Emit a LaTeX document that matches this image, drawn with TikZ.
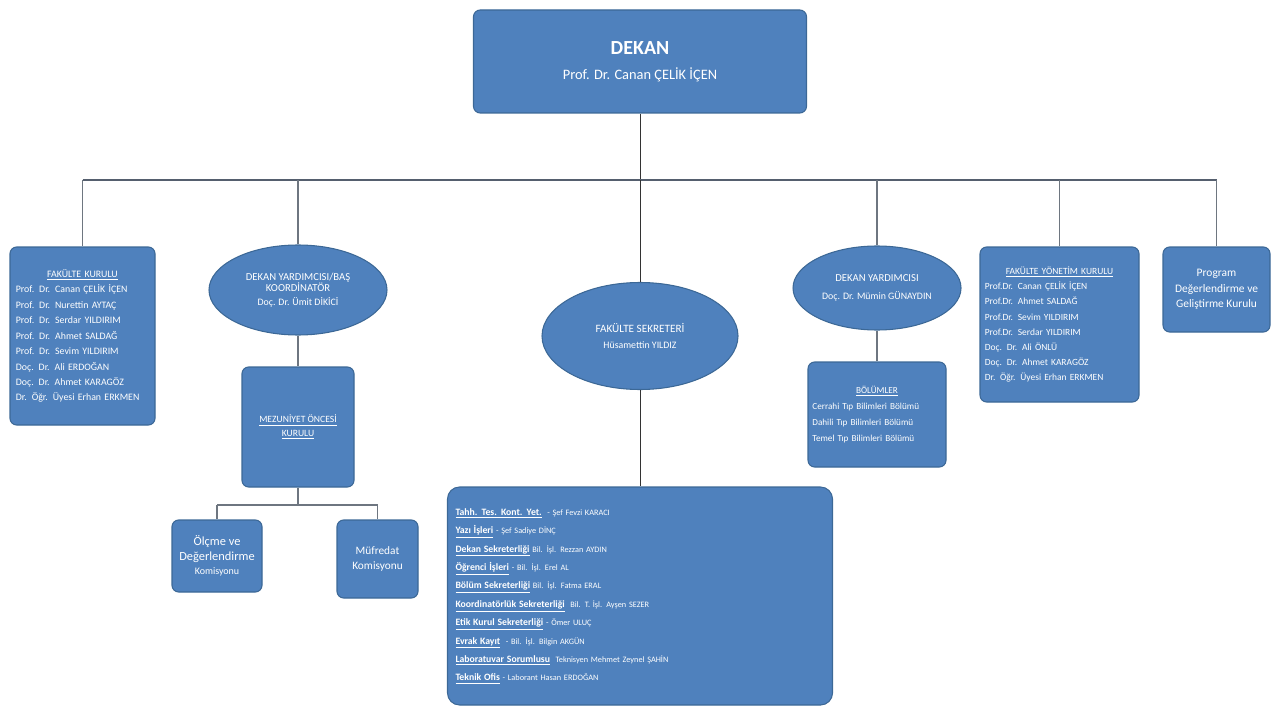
\documentclass[tikz,border=0pt]{standalone}
\usepackage{fontspec}
\setmainfont{Carlito}
\usetikzlibrary{shapes.geometric}
\definecolor{boxblue}{RGB}{79,129,189}
\definecolor{boxedge}{RGB}{60,104,150}
\definecolor{linegray}{RGB}{110,118,128}
\definecolor{busgray}{RGB}{85,95,110}
\begin{document}
\begin{tikzpicture}[x=0.75pt,y=-0.75pt,
  blk/.style={draw=boxedge, line width=0.8pt, fill=boxblue, text=white, rounded corners=5pt, inner sep=0pt},
  oval/.style={ellipse, draw=boxedge, line width=0.8pt, fill=boxblue, text=white, inner sep=0pt, align=center},
  conn/.style={draw=linegray, line width=0.9pt},
  darkconn/.style={draw=black!80, line width=0.7pt},
  bus/.style={draw=busgray, line width=2pt},
  lab/.style={font=\fontsize{7.2}{13.8}\selectfont\bfseries}]
\useasboundingbox (0,0) rectangle (1280,709);

% Dean
\node[blk, minimum width=249.75pt, minimum height=77.25pt, align=center] (dekan) at (640,61.5)
  {{\fontsize{15}{18}\selectfont\bfseries DEKAN}\\[7pt]{\fontsize{10.8}{12}\selectfont Prof. Dr. Canan ÇELİK İÇEN}};

% Faculty board
\node[blk, minimum width=108.75pt, minimum height=133.5pt, text width=100pt, align=left,
      font=\fontsize{7.4}{11.6}\selectfont] (fk) at (82.5,336)
  {\makebox[\linewidth][c]{\underline{FAKÜLTE KURULU}}\\
   Prof. Dr. Canan ÇELİK İÇEN\\
   Prof. Dr. Nurettin AYTAÇ\\
   Prof. Dr. Serdar YILDIRIM\\
   Prof. Dr. Ahmet SALDAĞ\\
   Prof. Dr. Sevim YILDIRIM\\
   Doç. Dr. Ali ERDOĞAN\\
   Doç. Dr. Ahmet KARAGÖZ\\
   Dr. Öğr. Üyesi Erhan ERKMEN};

% Vice dean / chief coordinator
\node[oval, minimum width=133.5pt, minimum height=67.5pt, font=\fontsize{8}{8.6}\selectfont] (e1) at (298,290)
  {DEKAN YARDIMCISI/BAŞ\\KOORDİNATÖR\\[2pt]{\fontsize{7.4}{8}\selectfont Doç. Dr. Ümit DİKİCİ}};

\node[blk, minimum width=84pt, minimum height=90pt, align=center, font=\fontsize{7.2}{10}\selectfont] (mo) at (298,427)
  {\underline{MEZUNİYET ÖNCESİ}\\\underline{KURULU}};

\node[blk, minimum width=67.5pt, minimum height=54pt, align=center, font=\fontsize{9.3}{10.8}\selectfont] (olc) at (217,556)
  {Ölçme ve\\Değerlendirme\\{\fontsize{7.5}{10}\selectfont Komisyonu}};

\node[blk, minimum width=60.75pt, minimum height=58.5pt, align=center, font=\fontsize{8.5}{11.5}\selectfont] (muf) at (377.5,559)
  {Müfredat\\Komisyonu};

% Faculty secretary
\node[oval, minimum width=147pt, minimum height=80.25pt, font=\fontsize{8.4}{12.5}\selectfont] (fs) at (640,336)
  {FAKÜLTE SEKRETERİ\\{\fontsize{7.4}{8}\selectfont Hüsamettin YILDIZ}};

\node[blk, minimum width=288.75pt, minimum height=163.5pt, text width=276.75pt, align=left,
      font=\fontsize{6.2}{13.8}\selectfont, rounded corners=9pt] (big) at (640,596)
  {{\fontsize{7.3}{13.8}\selectfont\bfseries\underline{Tahh. Tes. Kont. Yet.}} \ - Şef Fevzi KARACI\\
   {\fontsize{7.3}{13.8}\selectfont\bfseries\underline{Yazı İşleri}} - Şef Sadiye DİNÇ\\
   {\fontsize{7.3}{13.8}\selectfont\bfseries\underline{Dekan Sekreterliği}} Bil. İşl. Rezzan AYDIN\\
   {\fontsize{7.3}{13.8}\selectfont\bfseries\underline{Öğrenci İşleri}} - Bil. İşl. Erel AL\\
   {\fontsize{7.3}{13.8}\selectfont\bfseries\underline{Bölüm Sekreterliği}} Bil. İşl. Fatma ERAL\\
   {\fontsize{7.3}{13.8}\selectfont\bfseries\underline{Koordinatörlük Sekreterliği}} \ Bil. T. İşl. Ayşen SEZER\\
   {\fontsize{7.3}{13.8}\selectfont\bfseries\underline{Etik Kurul Sekreterliği}} - Ömer ULUÇ\\
   {\fontsize{7.3}{13.8}\selectfont\bfseries\underline{Evrak Kayıt}} \ - Bil. İşl. Bilgin AKGÜN\\
   {\fontsize{7.3}{13.8}\selectfont\bfseries\underline{Laboratuvar Sorumlusu}} \ Teknisyen Mehmet Zeynel ŞAHİN\\
   {\fontsize{7.3}{13.8}\selectfont\bfseries\underline{Teknik Ofis}} - Laborant Hasan ERDOĞAN};

% Vice dean
\node[oval, minimum width=126pt, minimum height=63pt, font=\fontsize{8}{14}\selectfont] (e3) at (877,288)
  {DEKAN YARDIMCISI\\{\fontsize{7.4}{8}\selectfont Doç. Dr. Mümin GÜNAYDIN}};

\node[blk, minimum width=103.5pt, minimum height=78.75pt, text width=97pt, align=left,
      font=\fontsize{6.9}{12}\selectfont] (bol) at (877,414.5)
  {\makebox[\linewidth][c]{\underline{BÖLÜMLER}}\\
   Cerrahi Tıp Bilimleri Bölümü\\
   Dahili Tıp Bilimleri Bölümü\\
   Temel Tıp Bilimleri Bölümü};

% Faculty executive board
\node[blk, minimum width=119.25pt, minimum height=116.25pt, text width=112pt, align=left,
      font=\fontsize{7.1}{11.3}\selectfont] (fyk) at (1059.5,324.5)
  {\makebox[\linewidth][c]{\underline{FAKÜLTE YÖNETİM KURULU}}\\
   Prof.Dr. Canan ÇELİK İÇEN\\
   Prof.Dr. Ahmet SALDAĞ\\
   Prof.Dr. Sevim YILDIRIM\\
   Prof.Dr. Serdar YILDIRIM\\
   Doç. Dr. Ali ÖNLÜ\\
   Doç. Dr. Ahmet KARAGÖZ\\
   Dr. Öğr. Üyesi Erhan ERKMEN};

% Program evaluation
\node[blk, minimum width=80.25pt, minimum height=63.75pt, align=center, font=\fontsize{8.6}{11.5}\selectfont] (prg) at (1216.5,289.5)
  {Program\\Değerlendirme ve\\Geliştirme Kurulu};

% Connectors
\coordinate (busM) at (dekan.south |- 0,180);
\coordinate (busL) at (fk.north |- busM);
\coordinate (busR) at (prg.north |- busM);
\draw[darkconn] (dekan.south) -- (busM);
\draw[bus] (busL) -- (busR);
\draw[conn] (busL) -- (fk.north);
\draw[conn] (e1.north |- busM) -- (e1.north);
\draw[darkconn] (busM) -- (fs.north);
\draw[darkconn] (fs.south) -- (big.north);
\draw[conn] (e3.north |- busM) -- (e3.north);
\draw[conn] (fyk.north |- busM) -- (fyk.north);
\draw[conn] (busR) -- (prg.north);
\draw[conn] (e1.south) -- (mo.north);
\coordinate (j) at (mo.south |- 0,505);
\draw[conn] (mo.south) -- (j);
\draw[conn] (olc.north |- j) -- (muf.north |- j);
\draw[conn] (olc.north |- j) -- (olc.north);
\draw[conn] (muf.north |- j) -- (muf.north);
\draw[conn] (e3.south) -- (bol.north);
\end{tikzpicture}
\end{document}
